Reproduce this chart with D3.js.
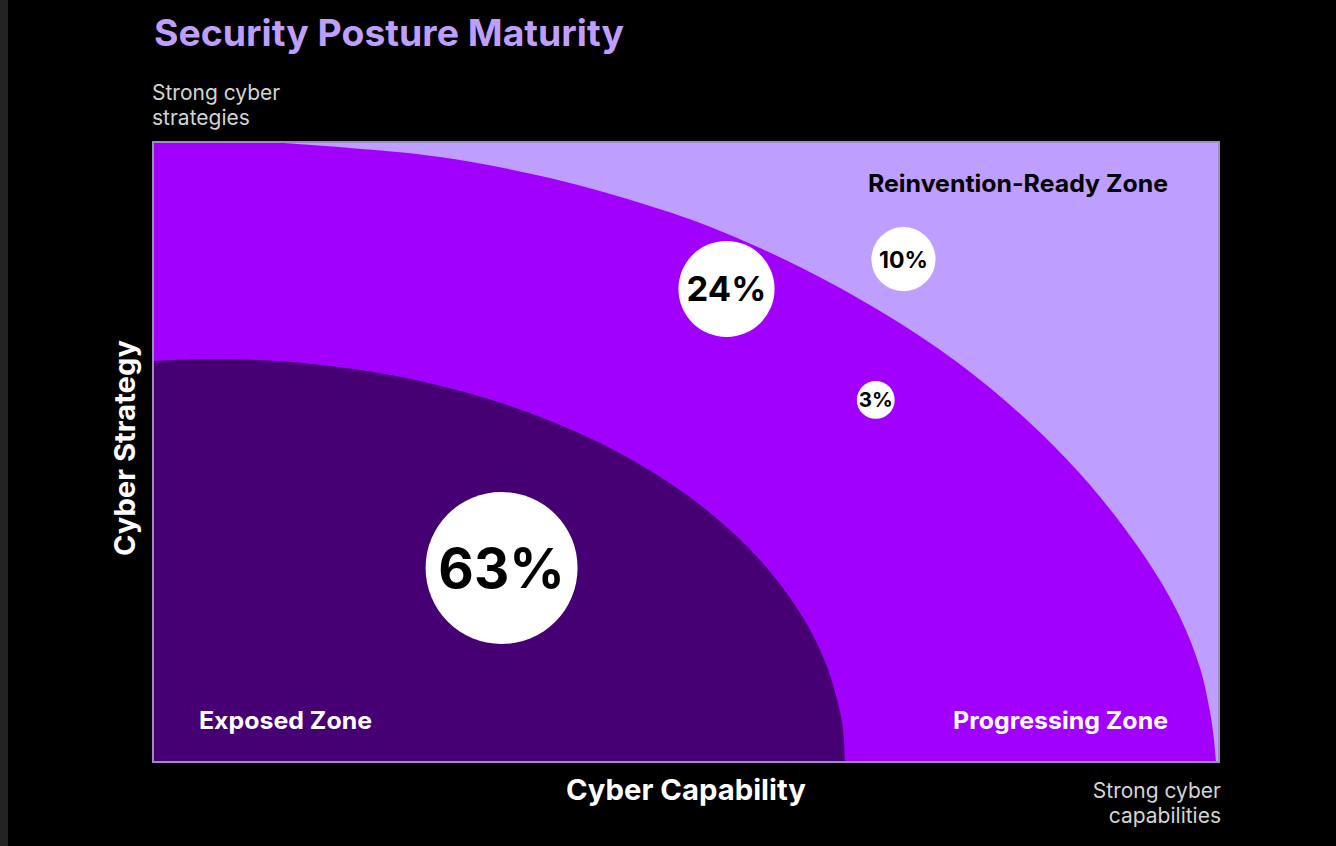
<!DOCTYPE html>
<html>
<head>
<meta charset="utf-8">
<script src="https://cdn.jsdelivr.net/npm/d3@7"></script>
<style>
  html, body { margin: 0; padding: 0; background: #000; }
  svg { display: block; }
</style>
</head>
<body>
<svg id="chart" width="1336" height="846"></svg>
<script>
// ---------- data ----------
const title = "Security Posture Maturity";
const xAxisTitle = "Cyber Capability";
const yAxisTitle = "Cyber Strategy";
const yEndLabel = ["Strong cyber", "strategies"];
const xEndLabel = ["Strong cyber", "capabilities"];
const zoneNames = ["Exposed Zone", "Progressing Zone", "Reinvention-Ready Zone"];

// bubbles (share of organisations), positioned on capability (x) / strategy (y), 0-100 scale
const bubbleLabels = ["63%", "24%", "10%", "3%"];
const bubbleValues = [63, 24, 10, 3];
const bubbleCapability = [32.7, 53.8, 70.4, 67.8];
const bubbleStrategy = [31.3, 76.3, 81.1, 58.4];

// zone boundaries (capability, strategy)
const outerBoundaryX = [0, 10.51, 18.48, 26.92, 37.24, 46.62, 52.53, 60.69, 68.2, 75.42, 82.27, 87.9, 93.25, 96.34, 98.22, 99.16, 99.53, 99.72];
const outerBoundaryY = [100.65, 100, 99.03, 97.58, 94.19, 89.68, 86.13, 79.84, 72.74, 64.52, 54.68, 44.68, 32.58, 23.39, 15.16, 8.06, 3.55, 0];
const innerBoundaryX = [0, 5.82, 13.79, 23.17, 32.55, 40.06, 46.62, 52.25, 56.94, 60.69, 63.04, 64.45, 64.73, 64.92];
const innerBoundaryY = [64.68, 65.0, 64.4, 62.13, 57.97, 52.98, 47.02, 40.21, 32.6, 24.11, 16.24, 8.16, 5.16, 0];

// ---------- layout ----------
const W = 1336, H = 846;
const plot = { left: 153, top: 142, right: 1219, bottom: 762 };
const FONT = "Inter, 'Open Sans', sans-serif";
const colors = {
  light: "#BE9EFF",
  mid: "#A100FF",
  dark: "#460073",
  title: "#BE9EFF",
  border: "#9d8db8",
  note: "#d4d4d4"
};

const svg = d3.select("#chart");
svg.append("rect").attr("width", W).attr("height", H).attr("fill", "#000");
svg.append("rect").attr("x", 0).attr("y", 0).attr("width", 8).attr("height", H).attr("fill", "#232323");

const x = d3.scaleLinear().domain([0, 100]).range([plot.left, plot.right]);
const y = d3.scaleLinear().domain([0, 100]).range([plot.bottom, plot.top]);
const r = d3.scaleSqrt().domain([0, 63]).range([3, 76]);

svg.append("defs").append("clipPath").attr("id", "plotClip")
  .append("rect")
  .attr("x", x(0)).attr("y", y(100))
  .attr("width", x(100) - x(0)).attr("height", y(0) - y(100));

const g = svg.append("g").attr("clip-path", "url(#plotClip)");

g.append("rect")
  .attr("x", x(0)).attr("y", y(100))
  .attr("width", x(100) - x(0)).attr("height", y(0) - y(100))
  .attr("fill", colors.light);

const boundary = d3.line()
  .x(d => x(d[0])).y(d => y(d[1]))
  .curve(d3.curveCatmullRom.alpha(0.5));

const outerPts = outerBoundaryX.map((v, i) => [v, outerBoundaryY[i]]);
const innerPts = innerBoundaryX.map((v, i) => [v, innerBoundaryY[i]]);

g.append("path")
  .attr("d", boundary(outerPts) + `L${x(0)},${y(0)}Z`)
  .attr("fill", colors.mid);

g.append("path")
  .attr("d", boundary(innerPts) + `L${x(0)},${y(0)}Z`)
  .attr("fill", colors.dark);

// border
svg.append("rect")
  .attr("x", x(0)).attr("y", y(100))
  .attr("width", x(100) - x(0)).attr("height", y(0) - y(100))
  .attr("fill", "none")
  .attr("stroke", colors.border)
  .attr("stroke-width", 2);

// title
svg.append("text")
  .attr("x", 154).attr("y", 46)
  .attr("font-family", FONT).attr("font-weight", 700).attr("font-size", 37)
  .attr("textLength", 470).attr("lengthAdjust", "spacingAndGlyphs")
  .attr("fill", colors.title)
  .text(title);

// end labels
const yEnd = svg.append("text")
  .attr("font-family", FONT).attr("font-size", 21).attr("fill", colors.note);
yEndLabel.forEach((t, i) => yEnd.append("tspan").attr("x", 152).attr("y", 100 + i * 25).text(t));

const xEnd = svg.append("text")
  .attr("font-family", FONT).attr("font-size", 21).attr("fill", colors.note)
  .attr("text-anchor", "end");
xEndLabel.forEach((t, i) => xEnd.append("tspan").attr("x", 1221).attr("y", 798 + i * 25).text(t));

// axis titles
svg.append("text")
  .attr("x", (x(0) + x(100)) / 2).attr("y", 800)
  .attr("text-anchor", "middle")
  .attr("font-family", FONT).attr("font-weight", 700).attr("font-size", 29)
  .attr("textLength", 240).attr("lengthAdjust", "spacingAndGlyphs")
  .attr("fill", "#fff")
  .text(xAxisTitle);

svg.append("text")
  .attr("transform", `translate(135,${(y(0) + y(100)) / 2 - 4}) rotate(-90)`)
  .attr("text-anchor", "middle")
  .attr("font-family", FONT).attr("font-weight", 700).attr("font-size", 29)
  .attr("textLength", 216).attr("lengthAdjust", "spacingAndGlyphs")
  .attr("fill", "#fff")
  .text(yAxisTitle);

// zone labels
const zoneStyle = sel => sel.attr("font-family", FONT).attr("font-weight", 700).attr("font-size", 24)
  .attr("lengthAdjust", "spacingAndGlyphs");
zoneStyle(svg.append("text")).attr("x", 199).attr("y", 729).attr("textLength", 173)
  .attr("fill", "#fff").text(zoneNames[0]);
zoneStyle(svg.append("text")).attr("x", 953).attr("y", 729).attr("textLength", 215)
  .attr("fill", "#fff").text(zoneNames[1]);
zoneStyle(svg.append("text")).attr("x", 868).attr("y", 192).attr("textLength", 300)
  .attr("fill", "#000").text(zoneNames[2]);

// bubbles
const bubbles = bubbleLabels.map((label, i) => ({
  label, value: bubbleValues[i], cx: bubbleCapability[i], cy: bubbleStrategy[i]
}));

const bg = svg.selectAll("g.bubble").data(bubbles).join("g")
  .attr("class", "bubble")
  .attr("transform", d => `translate(${x(d.cx)},${y(d.cy)})`);

bg.append("circle")
  .attr("r", d => r(d.value))
  .attr("fill", "#fff");

bg.append("text")
  .attr("text-anchor", "middle")
  .attr("dy", "0.36em")
  .attr("font-family", FONT).attr("font-weight", 700)
  .attr("font-size", d => Math.max(20.5, r(d.value) * 0.72))
  .attr("fill", "#000")
  .text(d => d.label);
</script>
</body>
</html>
